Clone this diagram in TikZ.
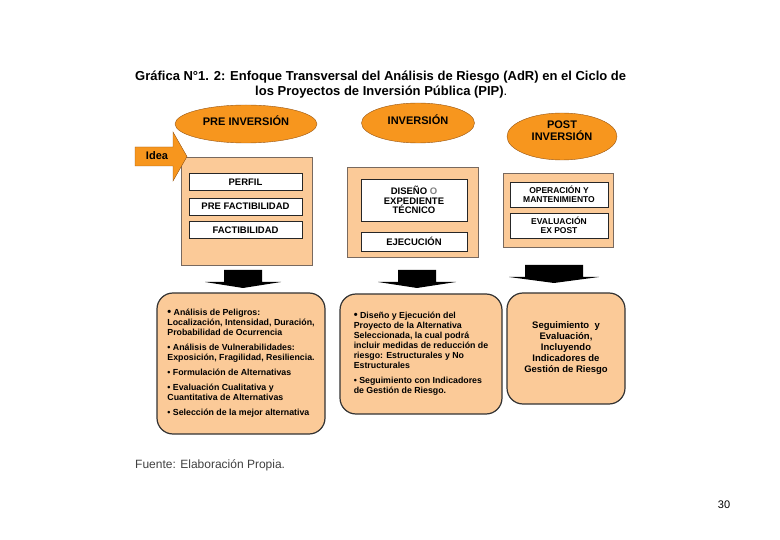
\documentclass[tikz,border=0pt]{standalone}
\usepackage{fontspec}
\setmainfont{Liberation Sans}
\usepackage{tikz}
\usetikzlibrary{shapes.geometric, positioning}
\definecolor{naranjafase}{RGB}{247,150,30}
\definecolor{bordefase}{RGB}{150,85,20}
\definecolor{melocoton}{RGB}{251,202,152}
\definecolor{bordepanel}{RGB}{120,105,95}
\tikzset{
  fase/.style={ellipse, draw=bordefase, fill=naranjafase, inner sep=0pt,
    align=center, font=\fontsize{11}{12}\selectfont\bfseries},
  panel/.style={rectangle, draw=bordepanel, fill=melocoton, inner sep=0pt},
  etapa/.style={rectangle, draw=black!85, fill=white, inner sep=0pt,
    align=center, font=\fontsize{9.5}{9.5}\selectfont\bfseries},
  resultado/.style={rectangle, rounded corners=16pt, draw=black!80, line width=1.2pt,
    fill=melocoton, inner sep=0pt, align=left, font=\fontsize{8.8}{10}\selectfont\bfseries},
  flechanegra/.style={fill=black},
  flechaidea/.style={fill=naranjafase, draw=bordefase},
}

\begin{document}
\begin{tikzpicture}[x=1pt, y=-1pt]
\useasboundingbox (0,0) rectangle (780,540);

% Titulo
\node[anchor=base west, inner sep=0pt, font=\fontsize{13}{15}\selectfont\bfseries] (titulo1) at (135,81)
  {Gráfica N°1. 2: Enfoque Transversal del Análisis de Riesgo (AdR) en el Ciclo de};
\node[anchor=base west, inner sep=0pt, font=\fontsize{13}{15}\selectfont\bfseries] (titulo2) at (255,96)
  {los Proyectos de Inversión Pública (PIP)\mdseries.};

% Fases
\node[fase, minimum width=142pt, minimum height=38pt, text depth=7pt] (preinv) at (246,124) {PRE INVERSIÓN};
\node[fase, minimum width=113pt, minimum height=40pt, text depth=7pt] (inv) at (418,123) {INVERSIÓN};
\node[fase, minimum width=110pt, minimum height=47pt, text depth=12pt] (postinv) at (562,136.5) {POST\\INVERSIÓN};

% Paneles
\node[panel, minimum width=131pt, minimum height=108pt] (panelpre) at (246.5,211) {};
\node[etapa, minimum width=113pt, minimum height=17pt] (perfil) at (245.5,182) {PERFIL};
\node[etapa, minimum width=113pt, minimum height=17pt] (prefact) at (245.5,206.5) {PRE FACTIBILIDAD};
\node[etapa, minimum width=113pt, minimum height=17pt] (fact) at (245.5,230) {FACTIBILIDAD};

\node[panel, minimum width=131pt, minimum height=90pt] (panelinv) at (412.5,212) {};
\node[etapa, minimum width=106pt, minimum height=42pt] (diseno) at (414,200) {DISEÑO {\color{gray}O}\\EXPEDIENTE\\TÉCNICO};
\node[etapa, minimum width=106pt, minimum height=19pt] (ejecucion) at (414,241.5) {EJECUCIÓN};

\node[panel, minimum width=110pt, minimum height=74pt] (panelpost) at (558,210) {};
\node[etapa, minimum width=98pt, minimum height=25pt, font=\fontsize{8.5}{9.5}\selectfont\bfseries] (operacion) at (559,194.5) {OPERACIÓN Y\\MANTENIMIENTO};
\node[etapa, minimum width=98pt, minimum height=25pt, font=\fontsize{8.5}{9.5}\selectfont\bfseries] (evaluacion) at (559,225.5) {EVALUACIÓN\\EX POST};

% Flecha Idea
\draw[flechaidea] (135,147) -- (173,147) -- (173,132) -- (187,156.5) -- (173,181) -- (173,166) -- (135,166) -- cycle;
\node[font=\fontsize{11}{12}\selectfont\bfseries] (idea) at (157,156) {Idea};

% Flechas negras
\foreach \cx/\ty/\sw/\hw in {243/270/19/38, 417/270/19/39, 554/265/29/45}
  \fill[flechanegra] ({\cx-\sw},{\ty}) -- ({\cx+\sw},{\ty}) -- ({\cx+\sw},{\ty+12}) -- ({\cx+\hw},{\ty+12})
    -- ({\cx},{\ty+18}) -- ({\cx-\hw},{\ty+12}) -- ({\cx-\sw},{\ty+12}) -- cycle;

% Resultados
\node[resultado, minimum width=168pt, minimum height=141pt] (analisis) at (241,363.5)
  {{\fontsize{11}{10}\selectfont\textbullet} Análisis de Peligros:\\
   Localización, Intensidad, Duración,\\
   Probabilidad de Ocurrencia\\[5pt]
   \textbullet{} Análisis de Vulnerabilidades:\\
   Exposición, Fragilidad, Resiliencia.\\[5pt]
   \textbullet{} Formulación de Alternativas\\[5pt]
   \textbullet{} Evaluación Cualitativa y\\
   Cuantitativa de Alternativas\\[5pt]
   \textbullet{} Selección de la mejor alternativa};
\node[resultado, minimum width=162pt, minimum height=120pt] (diseejec) at (421,354)
  {{\fontsize{11}{10}\selectfont\textbullet} Diseño y Ejecución del\\
   Proyecto de la Alternativa\\
   Seleccionada, la cual podrá\\
   incluir medidas de reducción de\\
   riesgo: Estructurales y No\\
   Estructurales\\[5pt]
   \textbullet{} Seguimiento con Indicadores\\
   de Gestión de Riesgo.};
\node[resultado, minimum width=118pt, minimum height=111pt, align=center,
  font=\fontsize{9.5}{11}\selectfont\bfseries] (seguimiento) at (566,348.5)
  {Seguimiento~ y\\Evaluación,\\Incluyendo\\Indicadores de\\Gestión de Riesgo};

% Fuente y pagina
\node[anchor=base west, inner sep=0pt, text=black!75, font=\fontsize{12}{13}\selectfont] (fuente) at (135,468)
  {Fuente: Elaboración Propia.};
\node[anchor=base, inner sep=0pt, font=\fontsize{11}{12}\selectfont] (pagina) at (724,508) {30};

\end{tikzpicture}
\end{document}
